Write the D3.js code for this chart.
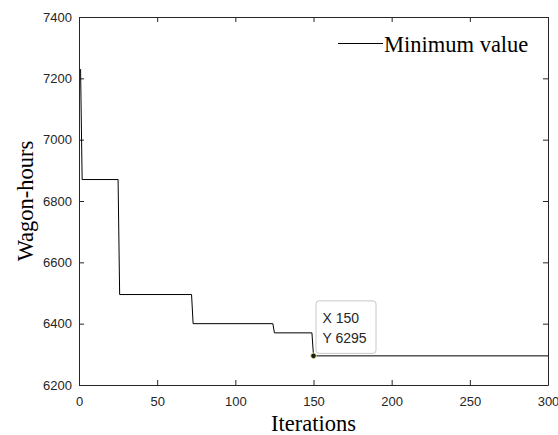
<!DOCTYPE html>
<html lang="en">
<head>
<meta charset="UTF-8">
<title>Wagon-hours vs iterations</title>
<style>
    body { margin: 0; background: #fff; }
    svg { display: block; }
    .tick text { font-family: 'Liberation Sans', Arial, sans-serif; font-size: 13px; fill: #262626; }
    .serif { font-family: 'Liberation Serif', 'Times New Roman', serif; fill: #000; }
</style>
</head>
<body>
<svg width="558" height="435"></svg>
<script src="https://d3js.org/d3.v7.min.js"></script>
<script>
    // Change points of the minimum value (iteration, wagon-hours)
    var iterations = [1, 2, 25, 26, 72, 73, 124, 125, 149, 150, 300];
    var minValues  = [7230, 6870, 6870, 6495, 6495, 6400, 6400, 6370, 6370, 6295, 6295];
    var xTicks = [0, 50, 100, 150, 200, 250, 300];
    var yTicks = [6200, 6400, 6600, 6800, 7000, 7200, 7400];
    var tipPoint = {x: 150, y: 6295};

    var data = iterations.map(function(d, i) { return {it: d, v: minValues[i]}; });

    var svg = d3.select("svg"),
        margin = {top: 17, right: 10, bottom: 50, left: 79},
        width = 558 - margin.left - margin.right,
        height = 435 - margin.top - margin.bottom;

    var x = d3.scaleLinear().domain([0, 300]).range([0, width]),
        y = d3.scaleLinear().domain([6200, 7400]).range([height, 0]);

    var g = svg.append("g")
        .attr("transform", "translate(" + margin.left + "," + margin.top + ")");

    var axisColor = "#262626";

    // bottom / left axes with inward ticks
    var gx = g.append("g")
        .attr("transform", "translate(0," + height + ")")
        .call(d3.axisBottom(x).tickValues(xTicks).tickFormat(d3.format("d"))
            .tickSizeInner(-5).tickSizeOuter(0).tickPadding(12));
    var gy = g.append("g")
        .call(d3.axisLeft(y).tickValues(yTicks).tickFormat(d3.format("d"))
            .tickSizeInner(-5).tickSizeOuter(0).tickPadding(7));
    // top / right axes (box)
    var gt = g.append("g")
        .call(d3.axisTop(x).tickValues(xTicks).tickSizeInner(-5).tickSizeOuter(0).tickFormat(""));
    var gr = g.append("g")
        .attr("transform", "translate(" + width + ",0)")
        .call(d3.axisRight(y).tickValues(yTicks).tickSizeInner(-5).tickSizeOuter(0).tickFormat(""));

    [gx, gy, gt, gr].forEach(function(a) {
        a.selectAll("path, line").attr("stroke", axisColor);
    });

    // the line
    var line = d3.line()
        .x(function(d) { return x(d.it); })
        .y(function(d) { return y(d.v); });

    g.append("path")
        .datum(data)
        .attr("fill", "none")
        .attr("stroke", "#000")
        .attr("stroke-width", 1)
        .attr("d", line);

    // axis labels
    svg.append("text")
        .attr("class", "serif")
        .attr("x", margin.left + width / 2)
        .attr("y", 430.5)
        .attr("text-anchor", "middle")
        .attr("font-size", "22.5px")
        .text("Iterations");

    svg.append("text")
        .attr("class", "serif")
        .attr("transform", "translate(33," + (margin.top + height / 2) + ") rotate(-90)")
        .attr("text-anchor", "middle")
        .attr("font-size", "22.5px")
        .text("Wagon-hours");

    // legend
    var lg = svg.append("g").attr("transform", "translate(338,43.5)");
    lg.append("line")
        .attr("x1", 0).attr("x2", 45)
        .attr("y1", 0).attr("y2", 0)
        .attr("stroke", "#000");
    lg.append("text")
        .attr("class", "serif")
        .attr("x", 46)
        .attr("y", 8.5)
        .attr("font-size", "22.5px")
        .text("Minimum value");

    // data tip
    var tx = x(tipPoint.x), ty = y(tipPoint.y);
    var tip = g.append("g");
    tip.append("rect")
        .attr("x", tx + 2.5)
        .attr("y", ty - 55)
        .attr("width", 60)
        .attr("height", 52.5)
        .attr("rx", 3)
        .attr("fill", "#fff")
        .attr("stroke", "#c8c8c8");
    tip.append("text")
        .attr("x", tx + 9)
        .attr("y", ty - 32.5)
        .attr("font-family", "'Liberation Sans', Arial, sans-serif")
        .attr("font-size", "14px")
        .attr("fill", "#262626")
        .text("X " + tipPoint.x);
    tip.append("text")
        .attr("x", tx + 9)
        .attr("y", ty - 12.5)
        .attr("font-family", "'Liberation Sans', Arial, sans-serif")
        .attr("font-size", "14px")
        .attr("fill", "#262626")
        .text("Y " + tipPoint.y);
    tip.append("circle")
        .attr("cx", tx)
        .attr("cy", ty)
        .attr("r", 2.8)
        .attr("fill", "#1a1a1a")
        .attr("stroke", "#ffffb0")
        .attr("stroke-width", 0.8);
</script>
</body>
</html>
